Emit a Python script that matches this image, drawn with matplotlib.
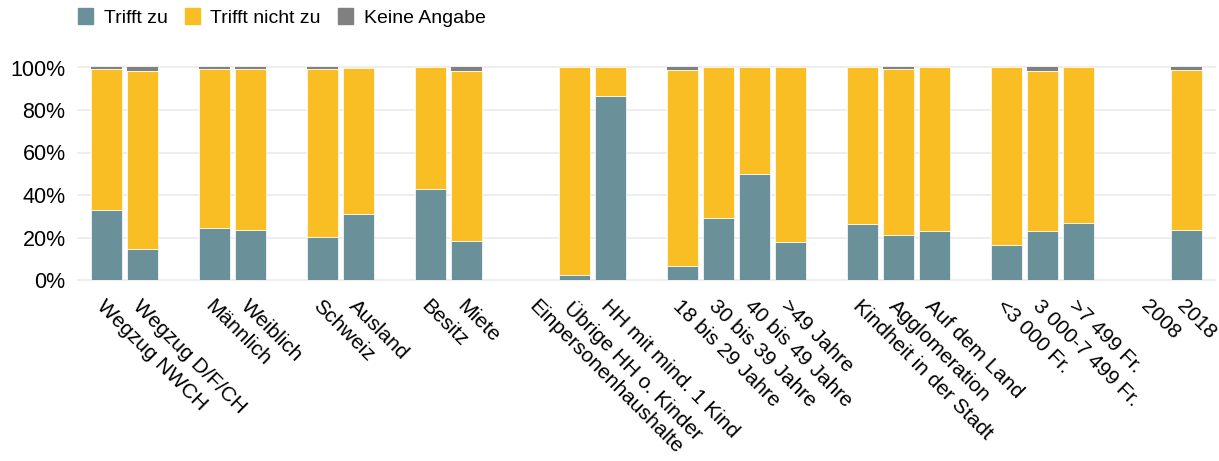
import numpy as np
import matplotlib.pyplot as plt
from matplotlib.patches import Patch
from matplotlib.ticker import PercentFormatter

plt.rcParams['font.family'] = ['Liberation Sans', 'DejaVu Sans']

# Kategorien in Gruppen (zwischen den Gruppen bleibt ein Platz frei)
gruppen = [
    ["Wegzug NWCH", "Wegzug D/F/CH"],
    ["Männlich", "Weiblich"],
    ["Schweiz", "Ausland"],
    ["Besitz", "Miete"],
    ["Einpersonenhaushalte", "Übrige HH o. Kinder", "HH mit mind. 1 Kind"],
    ["18 bis 29 Jahre", "30 bis 39 Jahre", "40 bis 49 Jahre", ">49 Jahre"],
    ["Kindheit in der Stadt", "Agglomeration", "Auf dem Land"],
    ["<3 000 Fr.", "3 000-7 499 Fr.", ">7 499 Fr."],
    ["2008", "2018"],
]

# Werte in %, in der Reihenfolge der Kategorien
trifft_zu = [33.0, 14.4, 24.3, 23.5, 20.1, 30.9, 42.8, 18.5,
             0.0, 2.4, 86.7, 6.6, 29.0, 49.7, 17.8,
             26.5, 21.2, 23.2, 16.5, 23.2, 26.8, 0.0, 23.5]
trifft_nicht_zu = [66.3, 84.1, 75.0, 75.8, 79.1, 69.1, 57.2, 80.0,
                   0.0, 97.6, 13.3, 92.0, 71.0, 50.3, 82.2,
                   73.5, 78.0, 76.8, 83.5, 75.3, 73.2, 0.0, 75.3]
keine_angabe = [0.7, 1.5, 0.7, 0.7, 0.8, 0.0, 0.0, 1.5,
                0.0, 0.0, 0.0, 1.4, 0.0, 0.0, 0.0,
                0.0, 0.8, 0.0, 0.0, 1.5, 0.0, 0.0, 1.2]

farbe_zu = '#6A9199'
farbe_nicht = '#F9BE24'
farbe_ka = '#808080'

labels = []
x = []
pos = 0
for g in gruppen:
    for name in g:
        labels.append(name)
        x.append(pos)
        pos += 1
    pos += 1
x = np.array(x)

zu = np.array(trifft_zu) / 100
nicht = np.array(trifft_nicht_zu) / 100
ka = np.array(keine_angabe) / 100

fig = plt.figure(figsize=(12.19, 4.61), dpi=100)
ax = fig.add_axes([78 / 1219, 1 - 280 / 461, (1215 - 78) / 1219, (280 - 67.5) / 461])

w = 0.87
ax.bar(x, zu, w, color=farbe_zu, edgecolor='white', linewidth=0.5, zorder=3)
ax.bar(x, nicht, w, bottom=zu, color=farbe_nicht, edgecolor='white', linewidth=0.5, zorder=3)
ax.bar(x, ka, w, bottom=zu + nicht, color=farbe_ka, edgecolor='none', zorder=3)

ax.set_xlim(-0.8, x[-1] + 0.8)
ax.set_ylim(0, 1.0)
ax.set_yticks([0, 0.2, 0.4, 0.6, 0.8, 1.0])
ax.yaxis.set_major_formatter(PercentFormatter(1.0, decimals=0))
ax.grid(axis='y', color='#EBEBEB', linewidth=1.2, zorder=0)
for gl in ax.yaxis.get_gridlines():
    gl.set_clip_on(False)
for s in ax.spines.values():
    s.set_visible(False)
ax.tick_params(axis='both', length=0, colors='black')
ax.tick_params(axis='y', pad=9, labelsize=15.5)

ax.set_xticks(x)
ax.set_xticklabels(labels, rotation=-45, ha='left', va='top',
                   rotation_mode='anchor', fontsize=15)
ax.tick_params(axis='x', pad=12)

handles = [Patch(color=farbe_zu, label='Trifft zu'),
           Patch(color=farbe_nicht, label='Trifft nicht zu'),
           Patch(color=farbe_ka, label='Keine Angabe')]
fig.legend(handles=handles, loc='upper left', bbox_to_anchor=(0.05, 1.02),
           ncol=3, frameon=False, fontsize=14, handlelength=0.75,
           handleheight=0.85, handletextpad=0.55, columnspacing=0.9)

fig.savefig('out.png', dpi=100)
